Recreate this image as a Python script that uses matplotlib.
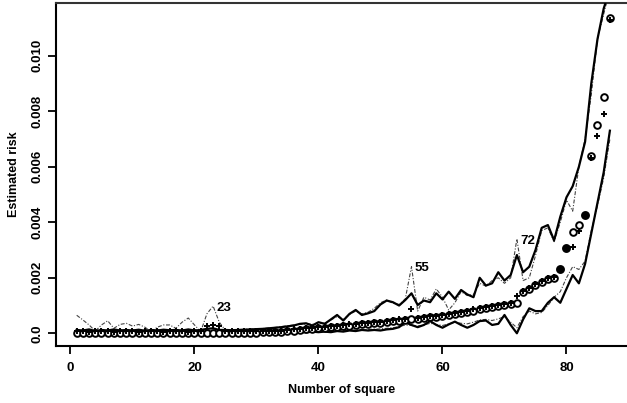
import numpy as np
import matplotlib
matplotlib.use("Agg")
import matplotlib.pyplot as plt

# Square index (sorted by estimated risk)
squares = list(range(1, 88))

# Smoothed risk estimate: pointwise upper / lower bands (method A, solid)
upper_a = [
    0.00012, 0.00010, 0.00014, 0.00008, 0.00012, 0.00010, 0.00014, 0.00010, 0.00012, 0.00010,
    0.00013, 0.00009, 0.00012, 0.00010, 0.00013, 0.00011, 0.00012, 0.00010, 0.00014, 0.00010,
    0.00012, 0.00016, 0.00018, 0.00012, 0.00012, 0.00011, 0.00012, 0.00013, 0.00014, 0.00015,
    0.00016, 0.00018, 0.00020, 0.00022, 0.00025, 0.00028, 0.00034, 0.00036, 0.00028, 0.00040,
    0.00034, 0.00050, 0.00066, 0.00046, 0.00070, 0.00084, 0.00066, 0.00072, 0.00080, 0.00104,
    0.00118, 0.00112, 0.00100, 0.00120, 0.00144, 0.00102, 0.00118, 0.00112, 0.00144, 0.00122,
    0.00150, 0.00124, 0.00156, 0.00140, 0.00130, 0.00200, 0.00172, 0.00180, 0.00220, 0.00190,
    0.00210, 0.00282, 0.00220, 0.00240, 0.00300, 0.00380, 0.00390, 0.00335, 0.00420, 0.00490,
    0.00530, 0.00600, 0.00690, 0.00900, 0.01060, 0.01170, 0.01240,
]
lower_a = [
    -0.00002, 0.00000, -0.00002, 0.00000, -0.00001, 0.00000, -0.00002, 0.00000, -0.00001, 0.00000,
    -0.00002, 0.00000, -0.00002, 0.00000, -0.00001, 0.00000, -0.00002, 0.00000, -0.00001, 0.00000,
    -0.00002, 0.00000, -0.00002, 0.00000, -0.00001, 0.00000, -0.00002, 0.00000, -0.00001, 0.00000,
    0.00000, 0.00002, 0.00003, 0.00002, 0.00004, 0.00003, 0.00005, 0.00003, 0.00006, 0.00004,
    0.00006, 0.00004, 0.00008, 0.00006, 0.00010, 0.00008, 0.00012, 0.00010, 0.00012, 0.00010,
    0.00014, 0.00016, 0.00022, 0.00040, 0.00030, 0.00022, 0.00030, 0.00044, 0.00030, 0.00020,
    0.00032, 0.00042, 0.00030, 0.00020, 0.00030, 0.00044, 0.00046, 0.00030, 0.00034, 0.00066,
    0.00030, 0.00000, 0.00050, 0.00090, 0.00080, 0.00080, 0.00110, 0.00130, 0.00110, 0.00160,
    0.00210, 0.00180, 0.00250, 0.00360, 0.00470, 0.00580, 0.00730,
]

# Bands from the second method (dash-dot)
upper_b = [
    0.00065, 0.00048, 0.00030, 0.00008, 0.00030, 0.00045, 0.00018, 0.00032, 0.00036, 0.00026,
    0.00032, 0.00022, 0.00006, 0.00022, 0.00030, 0.00030, 0.00018, 0.00040, 0.00055, 0.00030,
    0.00006, 0.00070, 0.00098, 0.00040, 0.00010, 0.00012, 0.00013, 0.00014, 0.00015, 0.00016,
    0.00017, 0.00019, 0.00021, 0.00024, 0.00027, 0.00030, 0.00032, 0.00034, 0.00032, 0.00038,
    0.00036, 0.00048, 0.00060, 0.00050, 0.00068, 0.00080, 0.00070, 0.00076, 0.00090, 0.00110,
    0.00120, 0.00108, 0.00104, 0.00124, 0.00240, 0.00080, 0.00130, 0.00120, 0.00160, 0.00130,
    0.00084, 0.00110, 0.00150, 0.00136, 0.00140, 0.00180, 0.00170, 0.00190, 0.00200, 0.00180,
    0.00200, 0.00340, 0.00190, 0.00200, 0.00280, 0.00370, 0.00380, 0.00330, 0.00400, 0.00480,
    0.00440, 0.00600, 0.00700, 0.00860, 0.01060, 0.01150, 0.01240,
]
lower_b = [
    0.00000, 0.00001, 0.00000, 0.00001, 0.00000, 0.00001, 0.00000, 0.00001, 0.00000, 0.00001,
    0.00000, 0.00001, 0.00000, 0.00001, 0.00000, 0.00001, 0.00000, 0.00001, 0.00000, 0.00001,
    0.00000, 0.00001, 0.00000, 0.00001, 0.00000, 0.00001, 0.00000, 0.00001, 0.00000, 0.00001,
    0.00001, 0.00002, 0.00002, 0.00003, 0.00003, 0.00004, 0.00004, 0.00005, 0.00005, 0.00006,
    0.00007, 0.00008, 0.00009, 0.00010, 0.00011, 0.00012, 0.00013, 0.00014, 0.00015, 0.00016,
    0.00018, 0.00020, 0.00024, 0.00030, 0.00028, 0.00026, 0.00030, 0.00036, 0.00032, 0.00028,
    0.00034, 0.00040, 0.00036, 0.00034, 0.00040, 0.00048, 0.00050, 0.00046, 0.00052, 0.00060,
    0.00040, 0.00020, 0.00060, 0.00080, 0.00070, 0.00075, 0.00100, 0.00130, 0.00150, 0.00200,
    0.00240, 0.00230, 0.00260, 0.00370, 0.00460, 0.00560, 0.00700,
]

# Point estimates: method A (open circles) and method B (plus signs)
risk_a = [0.00002] * 30 + [
    0.00003, 0.00004, 0.00005, 0.00006, 0.00008, 0.00010, 0.00012, 0.00014, 0.00016, 0.00018,
    0.00020, 0.00022, 0.00024, 0.00026, 0.00028, 0.00030, 0.00032, 0.00034, 0.00036, 0.00038,
    0.00041, 0.00044, 0.00046, 0.00048, 0.00050, 0.00052, 0.00055, 0.00058, 0.00060, 0.00063,
    0.00066, 0.00070, 0.00074, 0.00078, 0.00082, 0.00086, 0.00090, 0.00094, 0.00098, 0.00102,
    0.00106, 0.00110,
    0.00150, 0.00160, 0.00174, 0.00186, 0.00196, 0.00200, 0.00230, 0.00306, 0.00366, 0.00390,
    0.00426, 0.00640, 0.00750, 0.00850, 0.01135,
]
risk_b = [
    0.00008, 0.00010, 0.00006, 0.00010, 0.00008, 0.00010, 0.00006, 0.00010, 0.00008, 0.00010,
    0.00006, 0.00010, 0.00008, 0.00010, 0.00006, 0.00010, 0.00008, 0.00010, 0.00006, 0.00010,
    0.00008, 0.00028, 0.00030, 0.00025, 0.00008, 0.00008, 0.00008, 0.00008, 0.00008, 0.00008,
    0.00007, 0.00008, 0.00009, 0.00010, 0.00012, 0.00014, 0.00016, 0.00018, 0.00020, 0.00022,
    0.00024, 0.00026, 0.00028, 0.00030, 0.00032, 0.00034, 0.00036, 0.00038, 0.00040, 0.00042,
    0.00045, 0.00048, 0.00050, 0.00052, 0.00086, 0.00056, 0.00059, 0.00062, 0.00064, 0.00067,
    0.00070, 0.00074, 0.00078, 0.00082, 0.00086, 0.00090, 0.00094, 0.00098, 0.00102, 0.00106,
    0.00110, 0.00136,
    0.00152, 0.00162, 0.00176, 0.00188, 0.00198, 0.00204, 0.00232, 0.00306, 0.00310, 0.00370,
    0.00426, 0.00630, 0.00710, 0.00790, 0.01130,
]
# Squares whose circle is drawn solid
solid_squares = [79, 80, 83]

# Highlighted squares
labelled = [23, 55, 72]

x = np.array(squares)
plt.rcParams["font.family"] = ["Liberation Sans", "DejaVu Sans"]

fig = plt.figure(figsize=(6.27, 4.03), dpi=100)
ax = fig.add_axes([0.0893, 0.1422, 0.9107, 0.8496])

dashdot = (0, (3.5, 1.5, 1.0, 1.5))
ax.plot(x, upper_b, color="#444444", lw=0.8, ls=dashdot, zorder=2)
ax.plot(x, lower_b, color="#444444", lw=0.8, ls=dashdot, zorder=2)
ax.plot(x, upper_a, color="black", lw=1.6, zorder=3)
ax.plot(x, lower_a, color="black", lw=1.6, zorder=3)

ra = np.array(risk_a)
rb = np.array(risk_b)
solid = np.isin(x, solid_squares)
ax.plot(x[~solid], ra[~solid], ls="none", marker="o", ms=4.8, mfc="white",
        mec="black", mew=1.4, zorder=4)
ax.plot(x[solid], ra[solid], ls="none", marker="o", ms=5.2, mfc="black",
        mec="black", mew=1.2, zorder=4)
ax.plot(x, rb, ls="none", marker="+", ms=5.0, mec="black", mew=1.4, zorder=5)

ub = np.array(upper_b)
for sq in labelled:
    ax.text(sq + 0.5, ub[sq - 1] - 0.00006, str(sq), fontsize=9.5,
            fontweight="bold", ha="left", va="center", zorder=6)

ax.set_xlim(-2.34, 89.76)
ax.set_ylim(-0.000447, 0.01189)
ax.set_xticks([0, 20, 40, 60, 80])
ax.set_yticks([0.0, 0.002, 0.004, 0.006, 0.008, 0.010])
ax.set_yticklabels(["0.0", "0.002", "0.004", "0.006", "0.008", "0.010"],
                   rotation=90, va="center")
ax.tick_params(axis="both", direction="out", length=6, width=1.3, labelsize=9.5,
               pad=3)
ax.tick_params(axis="x", pad=6)
for lab in ax.get_xticklabels() + ax.get_yticklabels():
    lab.set_fontweight("bold")
for side in ["left", "bottom", "top"]:
    ax.spines[side].set_linewidth(1.5)
ax.spines["top"].set_color("#333333")
ax.spines["right"].set_visible(False)

ax.set_xlabel("Number of square", fontsize=9, fontweight="bold", labelpad=7)
ax.set_ylabel("Estimated risk", fontsize=9, fontweight="bold", labelpad=8)

fig.savefig("out.png", dpi=100)
